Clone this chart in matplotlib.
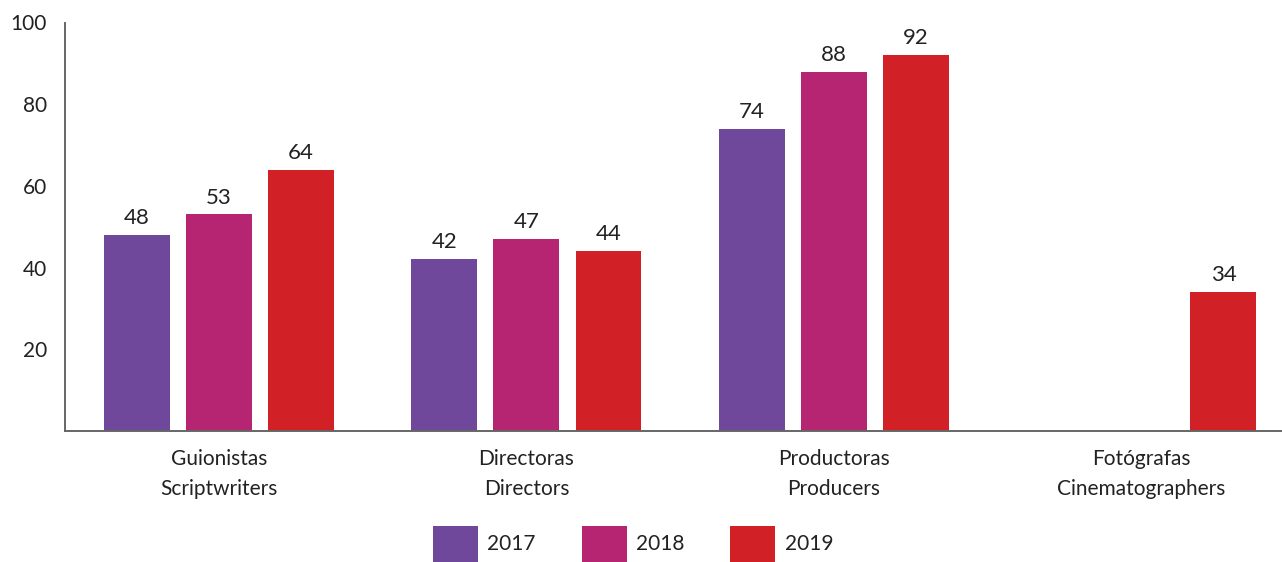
import numpy as np
import matplotlib
matplotlib.use("Agg")
import matplotlib.pyplot as plt

categories = ["Guionistas\nScriptwriters", "Directoras\nDirectors",
              "Productoras\nProducers", "Fotógrafas\nCinematographers"]
years = ["2017", "2018", "2019"]
vals_2017 = [48, 42, 74, np.nan]
vals_2018 = [53, 47, 88, np.nan]
vals_2019 = [64, 44, 92, 34]
yticks = [20, 40, 60, 80, 100]

colors = ["#6F479B", "#B62572", "#D22027"]
plt.rcParams["font.family"] = ["Lato", "DejaVu Sans"]
FS = 15
TXT = "#222222"

fig = plt.figure(figsize=(12.82, 5.62), dpi=100)
ax = fig.add_axes([65 / 1282, 1 - 431 / 562, 1 - 65 / 1282, (431 - 22.5) / 562])

x = np.arange(len(categories))
w, step = 0.2146, 0.2667
for i, (vals, c, yr) in enumerate(zip([vals_2017, vals_2018, vals_2019], colors, years)):
    bars = ax.bar(x + (i - 1) * step, vals, width=w, color=c, label=yr)
    for b, v in zip(bars, vals):
        if np.isnan(v):
            continue
        ax.annotate(f"{v:g}", (b.get_x() + b.get_width() / 2, v), xytext=(0, 5),
                    textcoords="offset points", ha="center", va="bottom",
                    fontsize=FS + 1, color=TXT)

ax.set_xlim(-0.5008, 3.457)
ax.set_ylim(0, 100)
ax.set_yticks(yticks)
ax.set_xticks(x)
ax.set_xticklabels(categories, fontsize=FS, color=TXT, linespacing=1.65)
ax.tick_params(axis="both", length=0, labelsize=FS, colors=TXT)
ax.tick_params(axis="x", pad=13)
ax.tick_params(axis="y", pad=13)
for s in ["top", "right"]:
    ax.spines[s].set_visible(False)
for s in ["left", "bottom"]:
    ax.spines[s].set_color("#666666")
    ax.spines[s].set_linewidth(1.4)

fig.legend(loc="lower center", bbox_to_anchor=(0.4938, 0.0), ncol=3, frameon=False,
           fontsize=FS, handlelength=2.16, handleheight=2.3, handletextpad=0.45,
           columnspacing=2.2, labelcolor=TXT, borderpad=0.0, borderaxespad=0.0)

fig.savefig("out.png", dpi=100)
